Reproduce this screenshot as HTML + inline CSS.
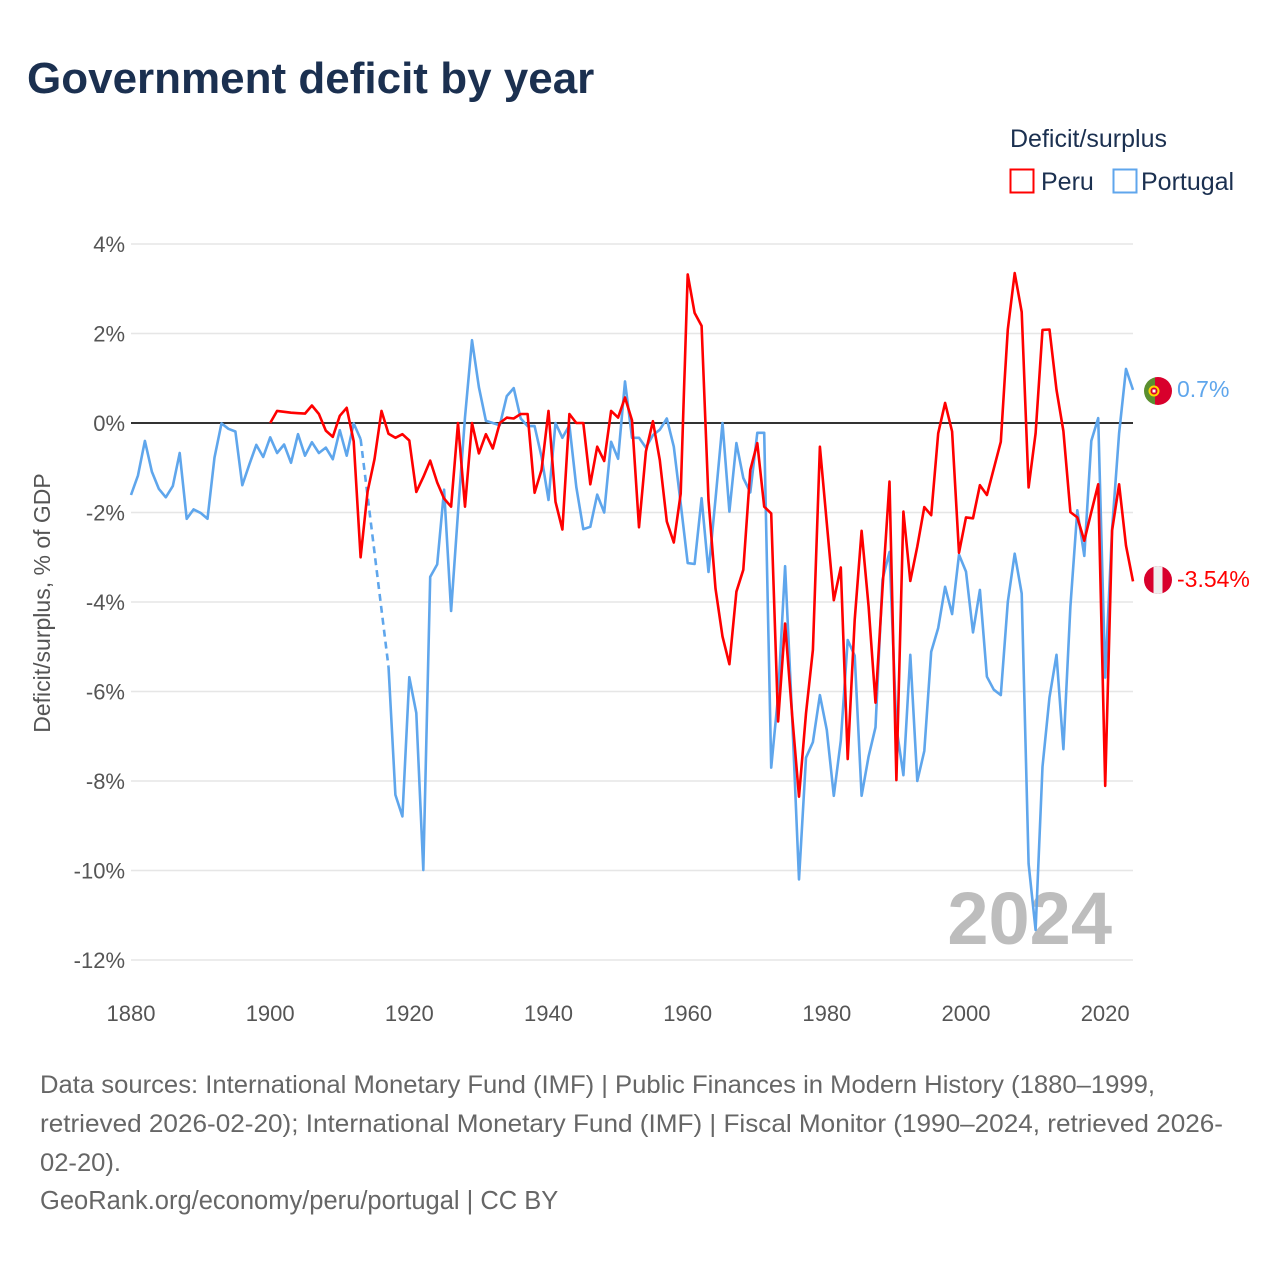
<!DOCTYPE html>
<html><head><meta charset="utf-8">
<style>
body{margin:0;background:#fff;}
svg text{font-family:"Liberation Sans",sans-serif;}
</style></head>
<body>
<svg id="chart" width="1280" height="1280" viewBox="0 0 1280 1280" xmlns="http://www.w3.org/2000/svg">
<rect width="1280" height="1280" fill="#fff"/>
<text x="27" y="93" font-size="44" font-weight="bold" fill="#1b3050">Government deficit by year</text>
<text x="1010" y="147" font-size="25" fill="#1b3050">Deficit/surplus</text>
<g>
<rect x="1010.5" y="169.5" width="23" height="23" fill="none" stroke="#ff0000" stroke-width="2"/>
<text x="1041" y="190" font-size="25" fill="#1b3050">Peru</text></g>
<g>
<rect x="1113.5" y="169.5" width="23" height="23" fill="none" stroke="#5fa6ec" stroke-width="2"/>
<text x="1141" y="190" font-size="25" fill="#1b3050">Portugal</text></g>
<g id="grid"></g>
<g id="yticks"></g>
<g id="xticks"></g>
<text x="1112" y="944" font-size="74" font-weight="bold" fill="#bdbdbd" text-anchor="end">2024</text>
<text transform="translate(50,603) rotate(-90)" font-size="23" fill="#555" text-anchor="middle">Deficit/surplus, % of GDP</text>
<g id="series"></g>
<g>
<clipPath id="cpt"><circle cx="1158" cy="391" r="14"/></clipPath>
<g clip-path="url(#cpt)"><rect x="1144" y="377" width="11" height="28" fill="#5a8f2f"/><rect x="1155" y="377" width="17" height="28" fill="#d8002c"/></g>
<circle cx="1154" cy="391" r="4.5" fill="#d8002c" stroke="#ffd400" stroke-width="2"/><rect x="1152.5" y="389.5" width="3" height="3" fill="#fff"/></g>
<text x="1177" y="397" font-size="23" fill="#5fa6ec">0.7%</text>
<g>
<clipPath id="cpe"><circle cx="1158" cy="580" r="14"/></clipPath>
<g clip-path="url(#cpe)"><rect x="1144" y="566" width="28" height="28" fill="#d8002c"/><rect x="1153.5" y="566" width="9" height="28" fill="#eee"/></g></g>
<text x="1177" y="587" font-size="23" fill="#ff0000">-3.54%</text>
<text font-size="25" fill="#666">
<tspan x="40" y="1093" textLength="1115" lengthAdjust="spacingAndGlyphs">Data sources: International Monetary Fund (IMF) | Public Finances in Modern History (1880–1999,</tspan>
<tspan x="40" y="1132" textLength="1183" lengthAdjust="spacingAndGlyphs">retrieved 2026-02-20); International Monetary Fund (IMF) | Fiscal Monitor (1990–2024, retrieved 2026-</tspan>
<tspan x="40" y="1171" textLength="81" lengthAdjust="spacingAndGlyphs">02-20).</tspan>
<tspan x="40" y="1209" font-size="25.5">GeoRank.org/economy/peru/portugal | CC BY</tspan>
</text>
</svg>
<script>
const yTicks = [4, 2, 0, -2, -4, -6, -8, -10, -12];
const xTicks = [1880, 1900, 1920, 1940, 1960, 1980, 2000, 2020];
const peruStart = 1900;
const peruValues = [0, 0.27, 0.25, 0.23, 0.22, 0.21, 0.39, 0.2, -0.17, -0.31, 0.16, 0.34, -0.41, -3.0, -1.53, -0.81, 0.27, -0.24, -0.33, -0.25,
 -0.39, -1.54, -1.21, -0.84, -1.33, -1.69, -1.87, 0, -1.87, 0, -0.68, -0.25, -0.57, 0, 0.12, 0.1, 0.2, 0.2, -1.56, -1.05,
 0.27, -1.76, -2.38, 0.2, 0, 0, -1.37, -0.53, -0.85, 0.27, 0.12, 0.57, 0.06, -2.33, -0.64, 0.04, -0.83, -2.2, -2.67, -1.58,
 3.32, 2.46, 2.17, -1.72, -3.7, -4.77, -5.39, -3.77, -3.28, -1.05, -0.45, -1.87, -2.02, -6.67, -4.48, -6.49, -8.35, -6.49, -5.07, -0.53,
 -2.24, -3.96, -3.23, -7.51, -4.4, -2.41, -4.1, -6.25, -3.7, -1.31, -7.98, -1.98, -3.53, -2.76, -1.88, -2.06, -0.23, 0.45, -0.19, -2.9,
 -2.11, -2.13, -1.39, -1.61, -1.02, -0.42, 2.09, 3.35, 2.48, -1.44, -0.23, 2.08, 2.09, 0.74, -0.18, -1.99, -2.11, -2.63, -1.99, -1.37,
 -8.11, -2.4, -1.37, -2.74, -3.54];
const portugalStart = 1880;
const portugalValues = [-1.61, -1.17, -0.4, -1.09, -1.47, -1.66, -1.41, -0.67, -2.14, -1.93, -2.01, -2.14, -0.77, -0.01, -0.13, -0.19, -1.39, -0.93, -0.49, -0.76,
 -0.32, -0.67, -0.48, -0.89, -0.25, -0.73, -0.43, -0.67, -0.55, -0.81, -0.16, -0.73, -0.01, -0.36, null, null, null, -5.44, -8.31, -8.79,
 -5.68, -6.48, -9.99, -3.44, -3.16, -1.49, -4.2, -2.0, 0.13, 1.85, 0.8, 0.05, 0, -0.05, 0.6, 0.78, 0.1, -0.07, -0.07, -0.75,
 -1.72, 0, -0.33, -0.05, -1.43, -2.37, -2.32, -1.6, -2.0, -0.42, -0.8, 0.93, -0.33, -0.33, -0.55, -0.27, -0.15, 0.1, -0.53, -1.8,
 -3.13, -3.15, -1.68, -3.33, -1.7, 0, -1.98, -0.45, -1.23, -1.55, -0.22, -0.22, -7.7, -6.1, -3.2, -6.5, -10.2, -7.48, -7.13, -6.08,
 -6.86, -8.33, -7.1, -4.85, -5.2, -8.33, -7.45, -6.8, -3.5, -2.88, -6.8, -7.87, -5.18, -8.0, -7.33, -5.11, -4.58, -3.66, -4.27, -2.94,
 -3.32, -4.68, -3.73, -5.67, -5.96, -6.08, -4.0, -2.92, -3.81, -9.85, -11.33, -7.68, -6.13, -5.18, -7.29, -4.1, -1.95, -2.97, -0.4, 0.11,
 -5.69, -2.36, -0.23, 1.21, 0.74];

const NS = 'http://www.w3.org/2000/svg';
const X0 = 131, X1 = 1133, YR0 = 1880, YR1 = 2024;
const Y_TOP = 244, Y_BOT = 960, V_TOP = 4, V_BOT = -12;
function xScale(yr){ return X0 + (yr - YR0) * (X1 - X0) / (YR1 - YR0); }
function yScale(v){ return Y_TOP + (V_TOP - v) * (Y_BOT - Y_TOP) / (V_TOP - V_BOT); }
function mk(tag, attrs, parent){ const e = document.createElementNS(NS, tag); for (const k in attrs) e.setAttribute(k, attrs[k]); parent.appendChild(e); return e; }

const grid = document.getElementById('grid');
const yt = document.getElementById('yticks');
yTicks.forEach(v => {
  if (v !== 0) {
    const l = mk('line', {x1: X0, x2: X1, y1: yScale(v), y2: yScale(v), stroke: '#e6e6e6', 'stroke-width': 1.5}, grid);
    
    
  }
  const t = mk('text', {x: 125, y: yScale(v) + 8, 'font-size': 22, fill: '#555', 'text-anchor': 'end'}, yt);
  t.textContent = v + '%';
  
  
});
const xt = document.getElementById('xticks');
xTicks.forEach(yr => {
  const t = mk('text', {x: xScale(yr), y: 1021, 'font-size': 22, fill: '#555', 'text-anchor': 'middle'}, xt);
  t.textContent = yr;
  
  
});
const zl = mk('line', {x1: X0, x2: X1, y1: yScale(0), y2: yScale(0), stroke: '#333', 'stroke-width': 2}, grid);



const series = document.getElementById('series');
function drawSeries(start, vals, color, name) {
  let d = '', pen = false, lastPt = null, gaps = [];
  vals.forEach((v, i) => {
    if (v === null) { pen = false; return; }
    const px = xScale(start + i), py = yScale(v);
    if (!pen && lastPt) gaps.push([lastPt, [px, py]]);
    d += (pen ? 'L' : 'M') + px.toFixed(1) + ',' + py.toFixed(1);
    pen = true; lastPt = [px, py];
  });
  const p = mk('path', {d: d, fill: 'none', stroke: color, 'stroke-width': 2.6, 'stroke-linejoin': 'round'}, series);
  
  
  gaps.forEach(g => {
    const dl = mk('line', {x1: g[0][0], y1: g[0][1], x2: g[1][0], y2: g[1][1], stroke: color, 'stroke-width': 2.6, 'stroke-dasharray': '7 5'}, series);
    
    
  });
}
drawSeries(portugalStart, portugalValues, '#5fa6ec', 'portugal');
drawSeries(peruStart, peruValues, '#ff0000', 'peru');
</script>
</body></html>
